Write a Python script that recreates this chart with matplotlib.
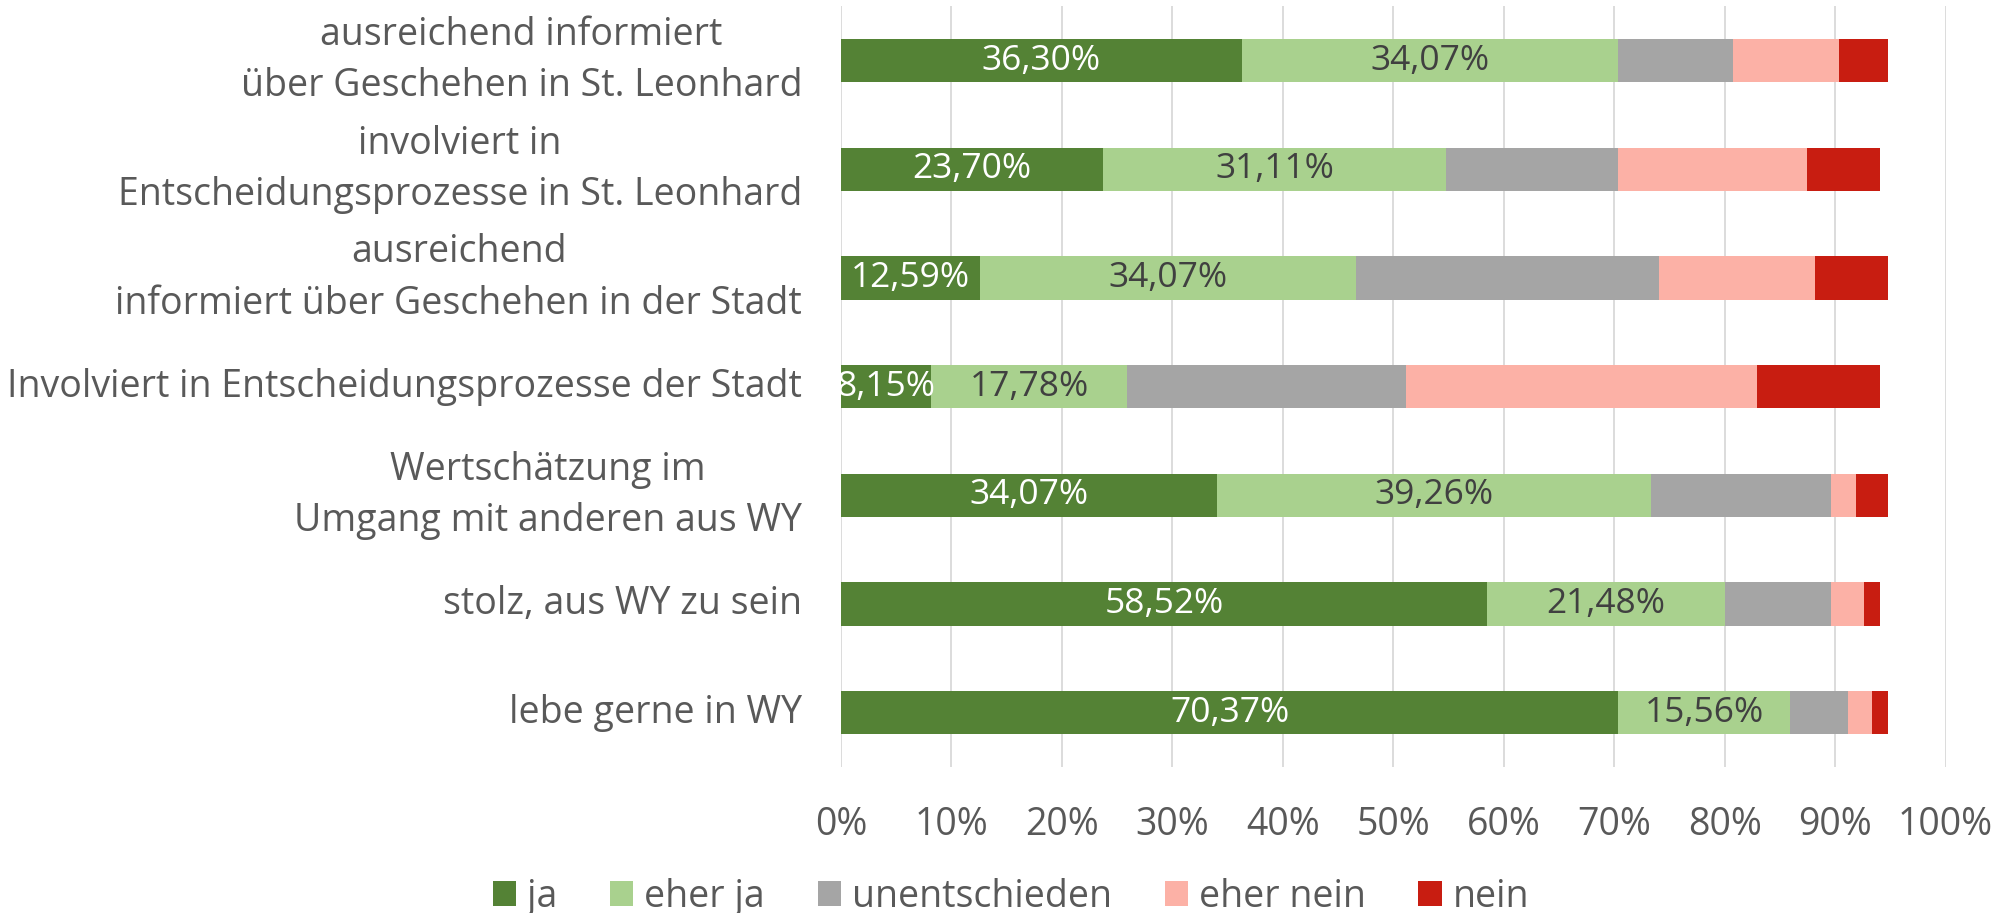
import matplotlib
matplotlib.use("Agg")
import matplotlib.pyplot as plt
from matplotlib.patches import Patch
import numpy as np

plt.rcParams['font.family'] = ['Open Sans', 'DejaVu Sans']

categories = [
    "ausreichend informiert\nüber Geschehen in St. Leonhard",
    "involviert in\nEntscheidungsprozesse in St. Leonhard",
    "ausreichend\ninformiert über Geschehen in der Stadt",
    "Involviert in Entscheidungsprozesse der Stadt",
    "Wertschätzung im\nUmgang mit anderen aus WY",
    "stolz, aus WY zu sein",
    "lebe gerne in WY",
]
series_names = ["ja", "eher ja", "unentschieden", "eher nein", "nein"]
ja = [36.30, 23.70, 12.59, 8.15, 34.07, 58.52, 70.37]
eher_ja = [34.07, 31.11, 34.07, 17.78, 39.26, 21.48, 15.56]
unentschieden = [10.37, 15.56, 27.41, 25.19, 16.30, 9.63, 5.19]
eher_nein = [9.63, 17.04, 14.07, 31.85, 2.22, 2.96, 2.22]
nein = [4.44, 6.67, 6.67, 11.11, 2.96, 1.48, 1.48]
x_ticks = [0, 10, 20, 30, 40, 50, 60, 70, 80, 90, 100]

colors = ["#548235", "#A9D18E", "#A5A5A5", "#FCB1A6", "#C81D11"]
label_colors = ["white", "#404040", None, None, None]
series = [ja, eher_ja, unentschieden, eher_nein, nein]

FS = 27

fig = plt.figure(figsize=(20.12, 9.13), dpi=100)
ax = fig.add_axes([0.418, 0.160, 0.549, 0.833])

y = np.arange(len(categories))
left = np.zeros(len(categories))
for vals, name, col, lc in zip(series, series_names, colors, label_colors):
    vals = np.array(vals)
    ax.barh(y, vals, left=left, height=0.4, color=col, linewidth=0, zorder=3, label=name)
    if lc is not None:
        for yi, (l, v) in enumerate(zip(left, vals)):
            ax.text(l + v / 2, yi, f"{v:.2f}%".replace(".", ","), ha="center", va="center",
                    color=lc, fontsize=25.5, zorder=4)
    left = left + vals

ax.set_xlim(0, 100)
ax.set_ylim(len(categories) - 0.5, -0.5)
ax.set_xticks(x_ticks)
ax.set_xticklabels([f"{t}%" for t in x_ticks])
ax.set_yticks(y)
ax.set_yticklabels(categories, multialignment="center", linespacing=1.45, va="center")
ax.tick_params(axis="x", length=0, pad=28, labelsize=FS, labelcolor="#595959")
ax.tick_params(axis="y", length=0, pad=28, labelsize=FS, labelcolor="#595959")
ax.grid(axis="x", color="#D9D9D9", linewidth=1.3, zorder=0)
ax.grid(axis="y", visible=False)
for s in ax.spines.values():
    s.set_visible(False)

handles = [Patch(facecolor=c, edgecolor="none") for c in colors]
fig.legend(handles, series_names, loc="lower center", bbox_to_anchor=(0.5025, -0.04), ncol=5,
           frameon=False, fontsize=FS, labelcolor="#595959", handlelength=0.62, handleheight=0.62,
           handletextpad=0.3, columnspacing=1.4)

fig.savefig("out.png", dpi=100)
